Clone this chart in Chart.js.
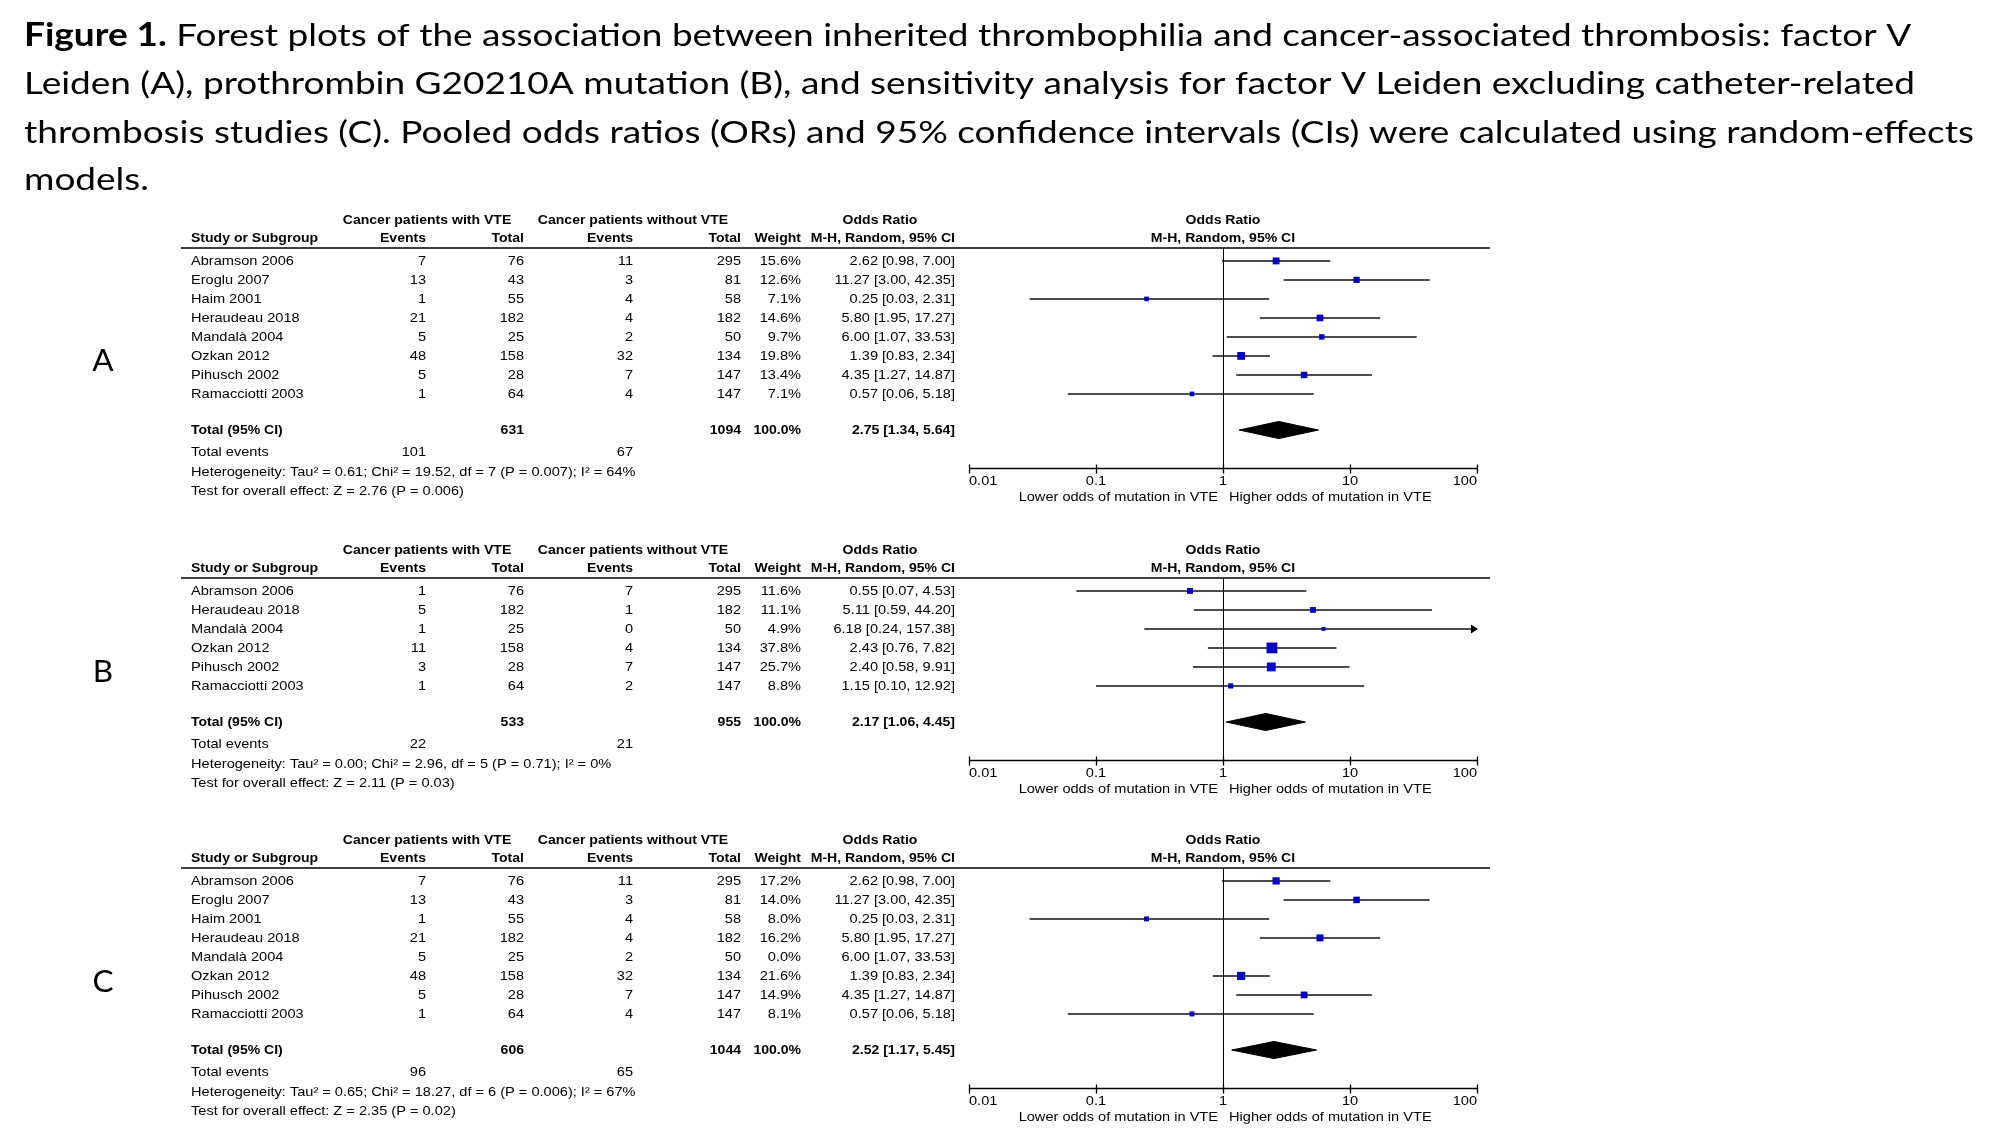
<!DOCTYPE html>
<html>
<head>
<meta charset="utf-8">
<title>Forest plots - inherited thrombophilia and cancer-associated thrombosis</title>
<script src="https://cdn.jsdelivr.net/npm/chart.js@4.4.1/dist/chart.umd.min.js"></script>
<style>
  html, body { margin: 0; padding: 0; background: #fff; }
  body { position: relative; width: 2000px; height: 1148px; overflow: hidden; }
  canvas { position: absolute; left: 0; }
</style>
</head>
<body>
<canvas id="chartA" width="2000" height="515" style="top:0px"></canvas>
<canvas id="chartB" width="2000" height="290" style="top:520px"></canvas>
<canvas id="chartC" width="2000" height="333" style="top:815px"></canvas>
<script>
// ---- data ----

// A: factor V Leiden
const studiesA = ['Abramson 2006', 'Eroglu 2007', 'Haim 2001', 'Heraudeau 2018', 'Mandalà 2004', 'Ozkan 2012', 'Pihusch 2002', 'Ramacciotti 2003'];
const evVteA = [7, 13, 1, 21, 5, 48, 5, 1];
const totVteA = [76, 43, 55, 182, 25, 158, 28, 64];
const evNoA = [11, 3, 4, 4, 2, 32, 7, 4];
const totNoA = [295, 81, 58, 182, 50, 134, 147, 147];
const weightA = [15.6, 12.6, 7.1, 14.6, 9.7, 19.8, 13.4, 7.1];
const orA = [2.62, 11.27, 0.25, 5.80, 6.00, 1.39, 4.35, 0.57];
const loA = [0.98, 3.00, 0.03, 1.95, 1.07, 0.83, 1.27, 0.06];
const hiA = [7.00, 42.35, 2.31, 17.27, 33.53, 2.34, 14.87, 5.18];
const pooledA = [2.75, 1.34, 5.64];
const totalsA = [631, 1094];
const eventsA = [101, 67];
const hetA = 'Heterogeneity: Tau² = 0.61; Chi² = 19.52, df = 7 (P = 0.007); I² = 64%';
const testA = 'Test for overall effect: Z = 2.76 (P = 0.006)';

// B: prothrombin G20210A
const studiesB = ['Abramson 2006', 'Heraudeau 2018', 'Mandalà 2004', 'Ozkan 2012', 'Pihusch 2002', 'Ramacciotti 2003'];
const evVteB = [1, 5, 1, 11, 3, 1];
const totVteB = [76, 182, 25, 158, 28, 64];
const evNoB = [7, 1, 0, 4, 7, 2];
const totNoB = [295, 182, 50, 134, 147, 147];
const weightB = [11.6, 11.1, 4.9, 37.8, 25.7, 8.8];
const orB = [0.55, 5.11, 6.18, 2.43, 2.40, 1.15];
const loB = [0.07, 0.59, 0.24, 0.76, 0.58, 0.10];
const hiB = [4.53, 44.20, 157.38, 7.82, 9.91, 12.92];
const pooledB = [2.17, 1.06, 4.45];
const totalsB = [533, 955];
const eventsB = [22, 21];
const hetB = 'Heterogeneity: Tau² = 0.00; Chi² = 2.96, df = 5 (P = 0.71); I² = 0%';
const testB = 'Test for overall effect: Z = 2.11 (P = 0.03)';

// C: factor V Leiden, sensitivity analysis
const studiesC = ['Abramson 2006', 'Eroglu 2007', 'Haim 2001', 'Heraudeau 2018', 'Mandalà 2004', 'Ozkan 2012', 'Pihusch 2002', 'Ramacciotti 2003'];
const evVteC = [7, 13, 1, 21, 5, 48, 5, 1];
const totVteC = [76, 43, 55, 182, 25, 158, 28, 64];
const evNoC = [11, 3, 4, 4, 2, 32, 7, 4];
const totNoC = [295, 81, 58, 182, 50, 134, 147, 147];
const weightC = [17.2, 14.0, 8.0, 16.2, 0.0, 21.6, 14.9, 8.1];
const orC = [2.62, 11.27, 0.25, 5.80, 6.00, 1.39, 4.35, 0.57];
const loC = [0.98, 3.00, 0.03, 1.95, 1.07, 0.83, 1.27, 0.06];
const hiC = [7.00, 42.35, 2.31, 17.27, 33.53, 2.34, 14.87, 5.18];
const pooledC = [2.52, 1.17, 5.45];
const totalsC = [606, 1044];
const eventsC = [96, 65];
const hetC = 'Heterogeneity: Tau² = 0.65; Chi² = 18.27, df = 6 (P = 0.006); I² = 67%';
const testC = 'Test for overall effect: Z = 2.35 (P = 0.02)';

// axis
const tickValues = [0.01, 0.1, 1, 10, 100];
const tickLabels = ['0.01', '0.1', '1', '10', '100'];
const favoursLower = 'Lower odds of mutation in VTE';
const favoursHigher = 'Higher odds of mutation in VTE';

const captionLines = [
    ['Figure 1.', ' Forest plots of the association between inherited thrombophilia and cancer-associated thrombosis: factor V'],
    ['', 'Leiden (A), prothrombin G20210A mutation (B), and sensitivity analysis for factor V Leiden excluding catheter-related'],
    ['', 'thrombosis studies (C). Pooled odds ratios (ORs) and 95% confidence intervals (CIs) were calculated using random-effects'],
    ['', 'models.']
];

// ---- layout ----
const ROW = 19;                       // px per table row
const PLOT_LEFT = 969, PLOT_RIGHT = 1477;
const RULE_LEFT = 181, RULE_RIGHT = 1490;
const COL = { study: 191, ev1: 426, tot1: 524, ev2: 633, tot2: 741, weight: 801, or: 955 };
const FONT = '"Liberation Sans", Arial, Helvetica, sans-serif';
const FS = 13.5;
const SX = 1.08;                      // the figure's text is slightly stretched
const SX_BOLD = 1.04;
const CAP_FONT = 'Lato, "Open Sans", sans-serif';
const CAP_SIZE = 31.5;
const CAP_LEFT = 24, CAP_RIGHT3 = 1974;
const CAP_BASE = [46, 94, 143, 190];
const SQUARE_K = 1.75;                // square side = k * sqrt(weight)

const layoutA = { canvas: 'chartA', top: 0, height: 515, ruleY: 248, letter: 'A', letterY: 361, caption: true };
const layoutB = { canvas: 'chartB', top: 520, height: 290, ruleY: 578, letter: 'B', letterY: 672 };
const layoutC = { canvas: 'chartC', top: 815, height: 333, ruleY: 868, letter: 'C', letterY: 982 };

const panelA = { studies: studiesA, evVte: evVteA, totVte: totVteA, evNo: evNoA, totNo: totNoA, weight: weightA, or: orA, lo: loA, hi: hiA, pooled: pooledA, totals: totalsA, events: eventsA, het: hetA, test: testA };
const panelB = { studies: studiesB, evVte: evVteB, totVte: totVteB, evNo: evNoB, totNo: totNoB, weight: weightB, or: orB, lo: loB, hi: hiB, pooled: pooledB, totals: totalsB, events: eventsB, het: hetB, test: testB };
const panelC = { studies: studiesC, evVte: evVteC, totVte: totVteC, evNo: evNoC, totNo: totNoC, weight: weightC, or: orC, lo: loC, hi: hiC, pooled: pooledC, totals: totalsC, events: eventsC, het: hetC, test: testC };

const RULE_ROW = -0.68;
const HEAD1_ROW = -2.16, HEAD2_ROW = -1.21;

function txt(ctx, s, x, y, align, bold) {
    ctx.save();
    ctx.font = (bold ? 'bold ' : '') + FS + 'px ' + FONT;
    ctx.textAlign = align || 'left';
    ctx.textBaseline = 'middle';
    ctx.fillStyle = '#000';
    ctx.translate(x, y);
    ctx.scale(bold ? SX_BOLD : SX, 1);
    ctx.fillText(s, 0, 0);
    ctx.restore();
}

function fmtCI(o, l, h) {
    return o.toFixed(2) + ' [' + l.toFixed(2) + ', ' + h.toFixed(2) + ']';
}

function drawCaption(ctx) {
    const reg = CAP_SIZE + 'px ' + CAP_FONT;
    const bold = 'bold ' + CAP_SIZE + 'px ' + CAP_FONT;
    ctx.save();
    ctx.font = reg;
    const s = (CAP_RIGHT3 - CAP_LEFT) / ctx.measureText(captionLines[2][1]).width;
    ctx.fillStyle = '#000';
    ctx.textBaseline = 'alphabetic';
    ctx.textAlign = 'left';
    captionLines.forEach((ln, k) => {
        ctx.save();
        ctx.translate(CAP_LEFT, CAP_BASE[k]);
        ctx.scale(s, 1);
        let x = 0;
        if (ln[0]) {
            ctx.font = bold;
            ctx.fillText(ln[0], 0, 0);
            x = ctx.measureText(ln[0]).width;
        }
        ctx.font = reg;
        ctx.fillText(ln[1], x, 0);
        ctx.restore();
    });
    ctx.restore();
}

function makePlugin(p, lay) {
    return {
        id: 'forest' + lay.letter,
        beforeDatasetsDraw(chart) {
            // line of no effect
            const ctx = chart.ctx, a = chart.chartArea;
            const x1 = Math.round(chart.scales.x.getPixelForValue(1)) + 0.5;
            ctx.save();
            ctx.strokeStyle = '#000';
            ctx.lineWidth = 1;
            ctx.beginPath();
            ctx.moveTo(x1, a.top);
            ctx.lineTo(x1, a.bottom);
            ctx.stroke();
            ctx.restore();
        },
        afterDatasetsDraw(chart) {
            // arrow where a CI runs past the axis
            const ctx = chart.ctx, xs = chart.scales.x, ys = chart.scales.y;
            const xMax = xs.getPixelForValue(xs.max);
            ctx.save();
            ctx.fillStyle = '#000';
            p.hi.forEach((h, i) => {
                if (p.weight[i] > 0 && h > xs.max) {
                    const y = ys.getPixelForValue(i);
                    ctx.beginPath();
                    ctx.moveTo(xMax + 1, y);
                    ctx.lineTo(xMax - 6, y - 4.5);
                    ctx.lineTo(xMax - 6, y + 4.5);
                    ctx.closePath();
                    ctx.fill();
                }
            });
            ctx.restore();
        },
        afterDraw(chart) {
            const ctx = chart.ctx, xs = chart.scales.x, ys = chart.scales.y, a = chart.chartArea;
            const Y = r => ys.getPixelForValue(r);
            const x1 = xs.getPixelForValue(1);
            const n = p.studies.length;
            const totalRow = n + 0.9;

            if (lay.caption) drawCaption(ctx);

            // panel letter
            ctx.save();
            ctx.font = CAP_SIZE + 'px ' + CAP_FONT;
            ctx.fillStyle = '#000';
            ctx.textAlign = 'center';
            ctx.textBaseline = 'middle';
            ctx.fillText(lay.letter, 103, lay.letterY - lay.top);
            ctx.restore();

            // headers
            txt(ctx, 'Cancer patients with VTE', 427, Y(HEAD1_ROW), 'center', true);
            txt(ctx, 'Cancer patients without VTE', 633, Y(HEAD1_ROW), 'center', true);
            txt(ctx, 'Odds Ratio', 880, Y(HEAD1_ROW), 'center', true);
            txt(ctx, 'Odds Ratio', x1, Y(HEAD1_ROW), 'center', true);
            txt(ctx, 'Study or Subgroup', COL.study, Y(HEAD2_ROW), 'left', true);
            txt(ctx, 'Events', COL.ev1, Y(HEAD2_ROW), 'right', true);
            txt(ctx, 'Total', COL.tot1, Y(HEAD2_ROW), 'right', true);
            txt(ctx, 'Events', COL.ev2, Y(HEAD2_ROW), 'right', true);
            txt(ctx, 'Total', COL.tot2, Y(HEAD2_ROW), 'right', true);
            txt(ctx, 'Weight', COL.weight, Y(HEAD2_ROW), 'right', true);
            txt(ctx, 'M-H, Random, 95% CI', COL.or, Y(HEAD2_ROW), 'right', true);
            txt(ctx, 'M-H, Random, 95% CI', x1, Y(HEAD2_ROW), 'center', true);

            // header rule
            ctx.save();
            ctx.strokeStyle = '#000';
            ctx.lineWidth = 1.6;
            ctx.beginPath();
            ctx.moveTo(RULE_LEFT, a.top);
            ctx.lineTo(RULE_RIGHT, a.top);
            ctx.stroke();
            ctx.restore();

            // study rows
            p.studies.forEach((s, i) => {
                const y = Y(i);
                txt(ctx, s, COL.study, y, 'left');
                txt(ctx, String(p.evVte[i]), COL.ev1, y, 'right');
                txt(ctx, String(p.totVte[i]), COL.tot1, y, 'right');
                txt(ctx, String(p.evNo[i]), COL.ev2, y, 'right');
                txt(ctx, String(p.totNo[i]), COL.tot2, y, 'right');
                txt(ctx, p.weight[i].toFixed(1) + '%', COL.weight, y, 'right');
                txt(ctx, fmtCI(p.or[i], p.lo[i], p.hi[i]), COL.or, y, 'right');
            });

            // totals
            const yt = Y(totalRow);
            txt(ctx, 'Total (95% CI)', COL.study, yt, 'left', true);
            txt(ctx, String(p.totals[0]), COL.tot1, yt, 'right', true);
            txt(ctx, String(p.totals[1]), COL.tot2, yt, 'right', true);
            const wSum = p.weight.reduce((s, w) => s + w, 0);
            txt(ctx, (Math.round(wSum / 10) * 10).toFixed(1) + '%', COL.weight, yt, 'right', true);
            txt(ctx, fmtCI(p.pooled[0], p.pooled[1], p.pooled[2]), COL.or, yt, 'right', true);

            const ye = Y(totalRow + 1.15);
            txt(ctx, 'Total events', COL.study, ye, 'left');
            txt(ctx, String(p.events[0]), COL.ev1, ye, 'right');
            txt(ctx, String(p.events[1]), COL.ev2, ye, 'right');
            txt(ctx, p.het, COL.study, Y(totalRow + 2.2), 'left');
            txt(ctx, p.test, COL.study, Y(totalRow + 3.2), 'left');

            // x axis
            const ay = Math.round(a.bottom) + 0.5;
            ctx.save();
            ctx.strokeStyle = '#000';
            ctx.lineWidth = 1.3;
            ctx.beginPath();
            ctx.moveTo(xs.getPixelForValue(tickValues[0]), ay);
            ctx.lineTo(xs.getPixelForValue(tickValues[tickValues.length - 1]), ay);
            tickValues.forEach(v => {
                const px = Math.round(xs.getPixelForValue(v)) + 0.5;
                ctx.moveTo(px, ay - 4);
                ctx.lineTo(px, ay + 5);
            });
            ctx.stroke();
            ctx.restore();
            tickValues.forEach((v, k) => {
                const align = k === 0 ? 'left' : (k === tickValues.length - 1 ? 'right' : 'center');
                txt(ctx, tickLabels[k], xs.getPixelForValue(v), ay + 13, align);
            });
            txt(ctx, favoursLower, x1 - 5, ay + 29, 'right');
            txt(ctx, favoursHigher, x1 + 6, ay + 29, 'left');
        }
    };
}

function buildChart(p, lay) {
    const n = p.studies.length;
    const totalRow = n + 0.9;
    const axisRow = totalRow + 2.0;
    const padT = lay.ruleY - lay.top;
    const areaH = (axisRow - RULE_ROW) * ROW;
    const padB = lay.height - padT - areaH;
    const shown = p.studies.map((s, i) => i).filter(i => p.weight[i] > 0);

    const squares = {
        label: 'Study OR',
        data: shown.map(i => ({ x: p.or[i], y: i })),
        showLine: false,
        pointStyle: 'rect',
        pointRadius: shown.map(i => SQUARE_K * Math.sqrt(p.weight[i]) / Math.SQRT2),
        pointBackgroundColor: 'rgb(0, 0, 200)',
        pointBorderWidth: 0
    };
    const whiskers = shown.map(i => ({
        label: p.studies[i] + ' CI',
        data: [{ x: p.lo[i], y: i }, { x: p.hi[i], y: i }],
        borderColor: '#111',
        borderWidth: 1.5,
        borderCapStyle: 'butt',
        pointRadius: 0,
        fill: false
    }));
    const [est, lo, hi] = p.pooled;
    const diamond = {
        label: 'Pooled OR',
        data: [
            { x: lo, y: totalRow }, { x: est, y: totalRow - 0.45 },
            { x: hi, y: totalRow }, { x: est, y: totalRow + 0.45 },
            { x: lo, y: totalRow }
        ],
        borderColor: '#000',
        borderWidth: 1,
        backgroundColor: '#000',
        fill: 'shape',
        pointRadius: 0
    };

    return new Chart(document.getElementById(lay.canvas), {
        type: 'line',
        data: { datasets: [squares, ...whiskers, diamond] },
        options: {
            responsive: false,
            animation: false,
            events: [],
            layout: { padding: { left: PLOT_LEFT, right: 2000 - PLOT_RIGHT, top: padT, bottom: padB } },
            plugins: { legend: { display: false }, tooltip: { enabled: false } },
            scales: {
                x: { type: 'logarithmic', min: tickValues[0], max: tickValues[tickValues.length - 1], display: false },
                y: { type: 'linear', min: RULE_ROW, max: axisRow, reverse: true, display: false }
            }
        },
        plugins: [makePlugin(p, lay)]
    });
}

buildChart(panelA, layoutA);
buildChart(panelB, layoutB);
buildChart(panelC, layoutC);
</script>
</body>
</html>
